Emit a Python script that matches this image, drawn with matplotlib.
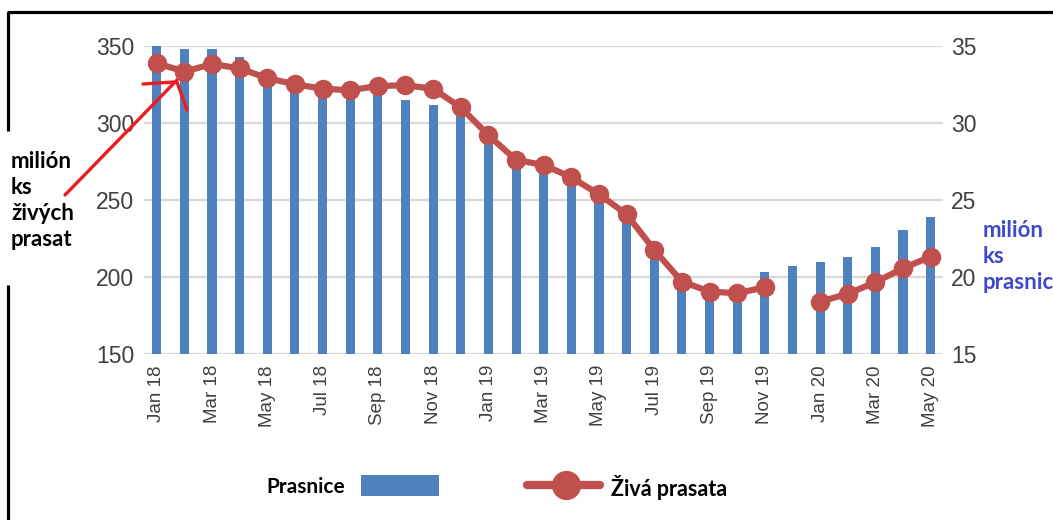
import matplotlib
matplotlib.use("Agg")
import matplotlib.pyplot as plt
from matplotlib.lines import Line2D
from matplotlib.patches import Rectangle

# ---- data ----
months = ["Jan 18", "Feb 18", "Mar 18", "Apr 18", "May 18", "Jun 18", "Jul 18", "Aug 18",
          "Sep 18", "Oct 18", "Nov 18", "Dec 18", "Jan 19", "Feb 19", "Mar 19", "Apr 19",
          "May 19", "Jun 19", "Jul 19", "Aug 19", "Sep 19", "Oct 19", "Nov 19", "Dec 19",
          "Jan 20", "Feb 20", "Mar 20", "Apr 20", "May 20"]
# sows (million head) - bars, right axis
prasnice = [34.95, 34.77, 34.77, 34.25, 33.1, 32.6, 32.4, 32.2, 32.5, 31.47, 31.13, 30.44,
            29.2, 27.4, 27.0, 26.2, 24.9, 23.8, 21.8, 19.5, 19.1, 18.9, 20.34, 20.71,
            20.95, 21.29, 21.96, 23.04, 23.89]
# live pigs (million head) - line, left axis (None = missing)
ziva_prasata = [338.6, 333.2, 338.1, 335.3, 328.9, 325.0, 322.1, 321.1, 323.9, 324.3, 322.1,
                310.0, 291.9, 275.9, 272.6, 264.6, 253.6, 240.6, 217.5, 197.0, 190.5, 189.4,
                193.3, None, 184.0, 189.0, 196.6, 205.6, 213.2]
left_ticks = [150, 200, 250, 300, 350]
right_ticks = [15, 20, 25, 30, 35]

BAR_C = "#4F81BD"
LINE_C = "#C0504D"
GRID_C = "#D9D9D9"
TICK_C = "#404040"

W, H = 1053, 520
fig = plt.figure(figsize=(W / 100, H / 100), dpi=100)
fig.patch.set_facecolor("white")

def fx(x):
    return x / W

def fy(y):
    return 1 - y / H

ax_left, ax_right, ax_top, ax_bot = 144, 943, 45.7, 354
ax = fig.add_axes([fx(ax_left), fy(ax_bot), (ax_right - ax_left) / W, (ax_bot - ax_top) / H])
ax2 = ax.twinx()

x = list(range(len(months)))

# bars on right axis
ax2.bar(x, prasnice, width=0.33, color=BAR_C, zorder=2)
ax2.set_ylim(15, 35)
ax2.set_yticks(right_ticks)
ax2.yaxis.grid(True, color=GRID_C, linewidth=1.6, zorder=0)
ax2.set_axisbelow(True)

# line on left axis
ys = [float("nan") if v is None else v for v in ziva_prasata]
ax.plot(x, ys, color=LINE_C, linewidth=4.5, marker="o", markersize=13,
        markerfacecolor=LINE_C, markeredgecolor=LINE_C, solid_capstyle="round", zorder=5)
ax.set_ylim(150, 350)
ax.set_yticks(left_ticks)
ax.set_xlim(-0.46, 28.445)
ax.set_zorder(ax2.get_zorder() + 1)
ax.patch.set_visible(False)

ax.set_xticks(x[::2])
ax.set_xticklabels(months[::2], rotation=90, fontsize=13.5, color=TICK_C,
                   family="Liberation Sans")
ax.tick_params(axis="x", length=0, pad=8)
ax.tick_params(axis="y", length=0, pad=7, labelsize=16.5, labelcolor=TICK_C)
ax2.tick_params(axis="y", length=0, pad=6, labelsize=16.5, labelcolor=TICK_C)
for lab in ax.get_yticklabels() + ax2.get_yticklabels():
    lab.set_family("Liberation Sans")

for a in (ax, ax2):
    for s in a.spines.values():
        s.set_visible(False)

# ---- legend (manual) ----
LEG_FONT = dict(family="Lato", fontweight="bold", fontsize=15, color="black")
fig.text(fx(266), fy(487), "Prasnice", ha="left", va="center", **LEG_FONT)
fig.patches.append(Rectangle((fx(361), fy(496)), (439 - 361) / W, (496 - 475) / H,
                             transform=fig.transFigure, facecolor=BAR_C, edgecolor="none"))
fig.lines.append(Line2D([fx(527), fx(600)], [fy(485), fy(485)], transform=fig.transFigure,
                        color=LINE_C, linewidth=6, solid_capstyle="round"))
fig.lines.append(Line2D([fx(566)], [fy(485)], transform=fig.transFigure, color=LINE_C,
                        marker="o", markersize=20, linestyle="none"))
fig.text(fx(611), fy(487), "Živá prasata", ha="left", va="center",
         **{**LEG_FONT, "fontsize": 15.5})

# ---- annotations ----
fig.text(fx(11), fy(151), "milión\nks\nživých\nprasat", ha="left", va="top",
         family="Lato", fontweight="bold", fontsize=16, color="black", linespacing=1.3)
fig.text(fx(983), fy(220), "milión\nks\nprasnic", ha="left", va="top",
         family="Lato", fontweight="bold", fontsize=16, color="#3F48CC", linespacing=1.3)

RED = "#ED1C24"
for (x0, y0), (x1, y1) in [((65, 195), (177, 80)), ((143, 84), (174, 82)), ((177, 82), (187, 110))]:
    fig.lines.append(Line2D([fx(x0), fx(x1)], [fy(y0), fy(y1)], transform=fig.transFigure,
                            color=RED, linewidth=2.4, solid_capstyle="round", zorder=10))

# ---- frame ----
for (x0, y0), (x1, y1) in [((7, 12), (1053, 12)), ((8, 12), (8, 131)), ((8, 285), (8, 520))]:
    fig.lines.append(Line2D([fx(x0), fx(x1)], [fy(y0), fy(y1)], transform=fig.transFigure,
                            color="black", linewidth=2.3, solid_capstyle="butt"))

fig.savefig("out.png", dpi=100, facecolor="white")
